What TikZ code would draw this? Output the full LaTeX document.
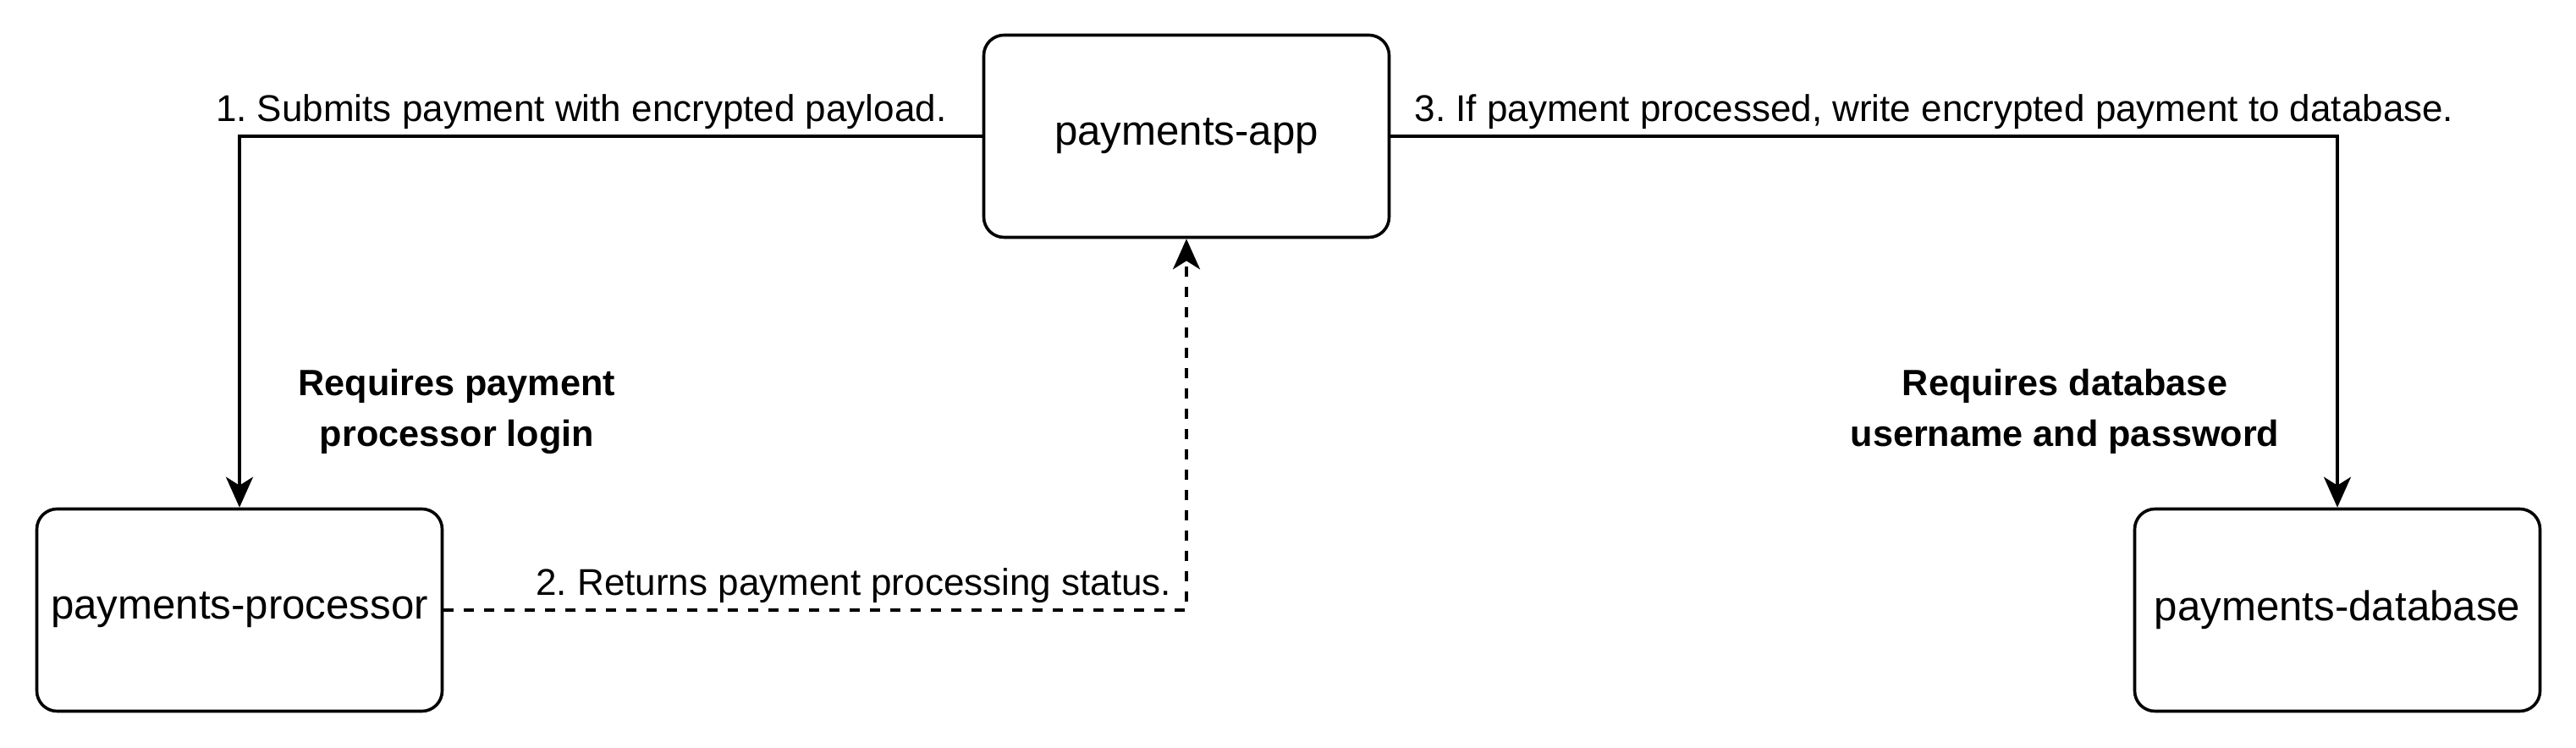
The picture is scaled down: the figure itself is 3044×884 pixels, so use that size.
\documentclass[tikz,border=0pt]{standalone}
\usepackage{fontspec}
\setmainfont{Liberation Sans}
\usetikzlibrary{arrows.meta}
\frenchspacing
\tikzset{
    service/.style={draw, line width=0.9pt, rounded corners=6pt,
        minimum width=119.75pt, minimum height=59.75pt,
        font=\fontsize{12.3}{15}\selectfont},
    flow/.style={line width=0.9pt, -{Stealth[length=9pt,width=8pt,inset=2.5pt]}},
    steplabel/.style={font=\fontsize{11}{13}\selectfont, inner sep=0pt, anchor=base, yshift=4.3pt},
    note/.style={font=\fontsize{10.8}{15}\selectfont\bfseries, align=center}
}
\begin{document}
\begin{tikzpicture}[x=0.25pt,y=-0.25pt]
            \useasboundingbox (0,0) rectangle (3044,884);
            \node[service] (app) at (1402,161) {payments-app};
            \node[service] (processor) at (283,721) {payments-processor};
            \node[service] (database) at (2762,721) {payments-database};
            \draw[flow] (app.west) -| node[steplabel, pos=0.27]{1. Submits payment with encrypted payload.} (processor.north);
            \draw[flow, dash pattern=on 3pt off 3pt] (processor.east) -| node[steplabel, pos=0.276]{2. Returns payment processing status.} (app.south);
            \draw[flow] (app.east) -| node[steplabel, pos=0.287]{3. If payment processed, write encrypted payment to database.} (database.north);
            \node[note] (loginnote) at (540,486) {Requires payment\\processor login};
            \node[note] (dbnote) at (2440,486) {Requires database\\username and password};
        \end{tikzpicture}
\end{document}
